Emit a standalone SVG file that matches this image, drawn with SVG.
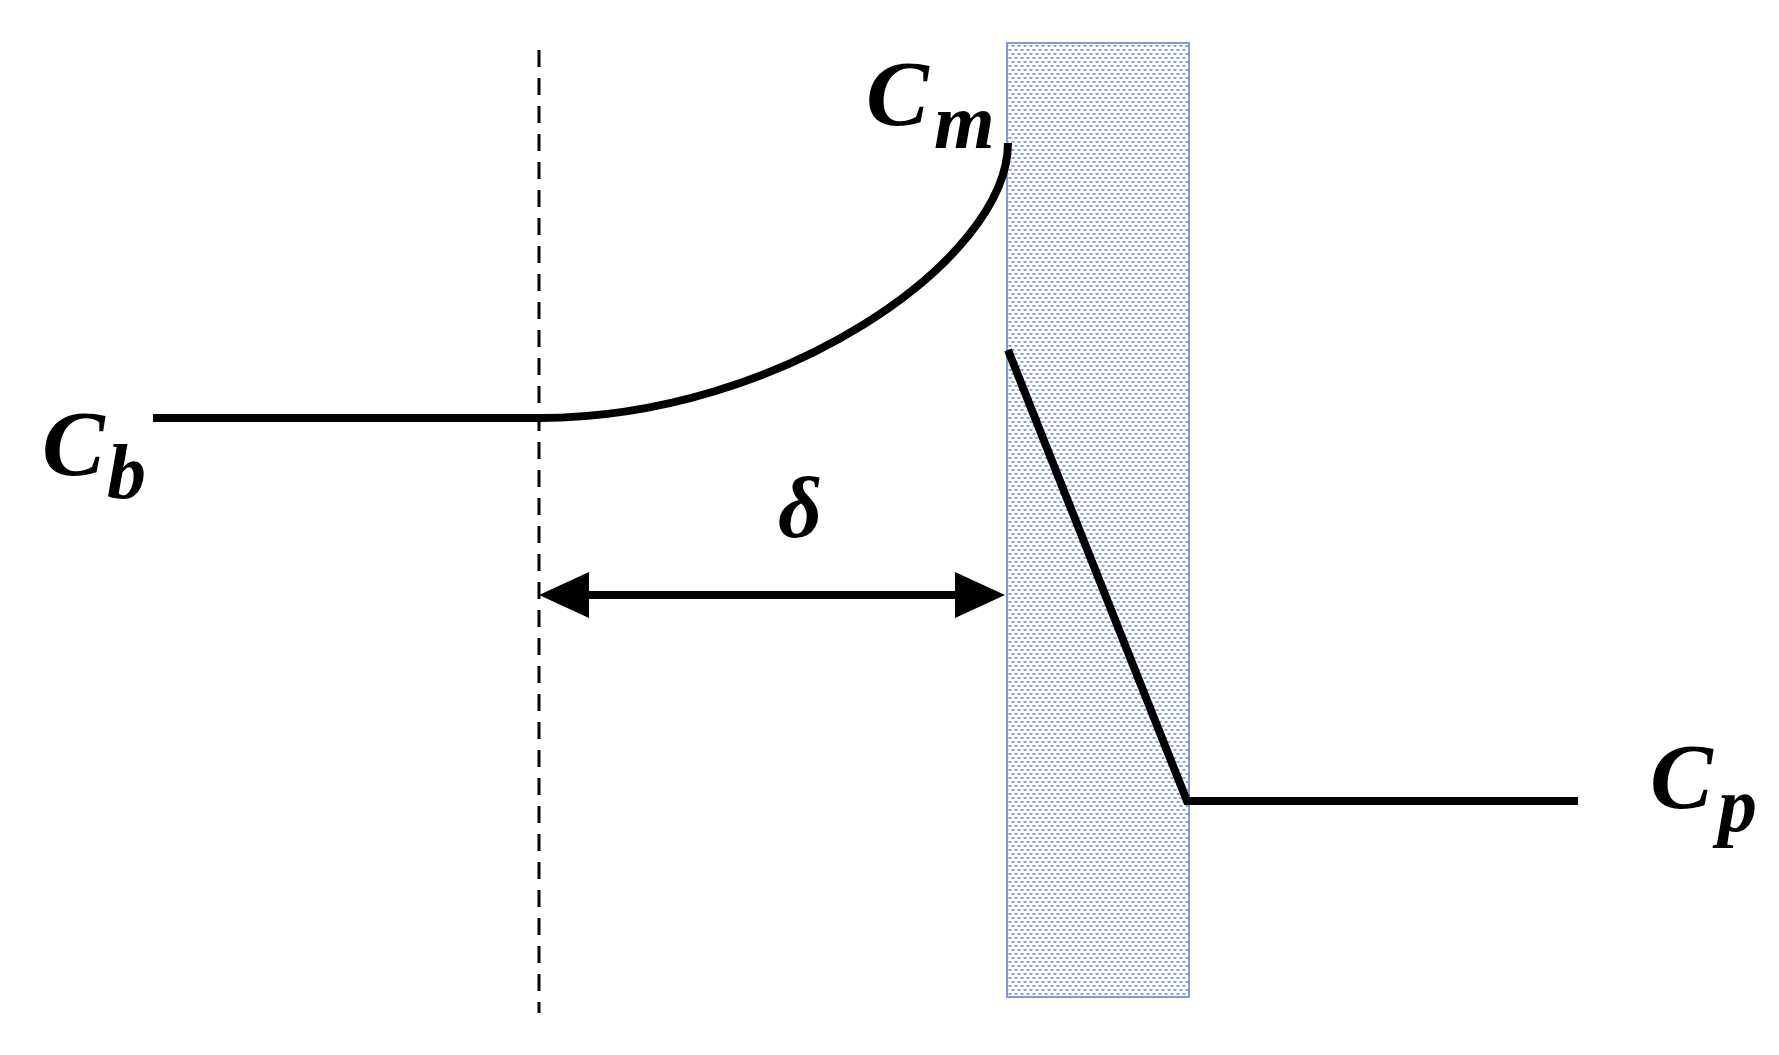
<svg xmlns="http://www.w3.org/2000/svg" width="1779" height="1055" viewBox="0 0 1779 1055">
<defs>
<pattern id="dots" x="0" y="0" width="6" height="8" patternUnits="userSpaceOnUse">
<rect width="6" height="8" fill="#ffffff"/>
<rect x="0.5" y="1" width="3" height="1.8" fill="#7a98dc"/>
<rect x="3.5" y="5" width="3" height="1.8" fill="#7a98dc"/>
<rect x="-2.5" y="5" width="3" height="1.8" fill="#7a98dc"/>
</pattern>
<style>
.lbl{font-family:"Liberation Serif","DejaVu Serif",serif;font-weight:bold;font-style:italic;fill:#000}
.main{font-size:94px}
.sub{font-size:78px}
.curve{fill:none;stroke:#000;stroke-width:8}
.head{fill:#000}
</style>
</defs>
<rect width="1779" height="1055" fill="#ffffff"/>
<g id="membrane">
<rect x="1007" y="43" width="182" height="954" fill="url(#dots)" stroke="#7f9ad6" stroke-width="2"/>
</g>
<g id="boundary">
<line x1="539" y1="50" x2="539" y2="1013" stroke="#000" stroke-width="3" stroke-dasharray="17 11"/>
</g>
<g id="connectors">
<path class="curve" d="M153,418 L539,418 C780,418 1008,260 1008,143"/>
<path class="curve" d="M1008,350 L1187,801 L1578,801"/>
<g id="delta-arrow">
<line x1="580" y1="595" x2="965" y2="595" stroke="#000" stroke-width="8"/>
<polygon class="head" points="539,595 589,572 589,618"/>
<polygon class="head" points="1005,595 955,572 955,618"/>
</g>
</g>
<g id="label-Cm">
<text class="lbl main" x="866" y="125">C</text>
<text class="lbl sub" x="934" y="148">m</text>
</g>
<g id="label-Cb">
<text class="lbl main" x="42" y="475">C</text>
<text class="lbl sub" x="107" y="498">b</text>
</g>
<g id="label-Cp">
<text class="lbl main" x="1650" y="808">C</text>
<text class="lbl sub" x="1718" y="831">p</text>
</g>
<g id="label-delta">
<text class="lbl" font-size="86" x="778" y="537">δ</text>
</g>
</svg>
